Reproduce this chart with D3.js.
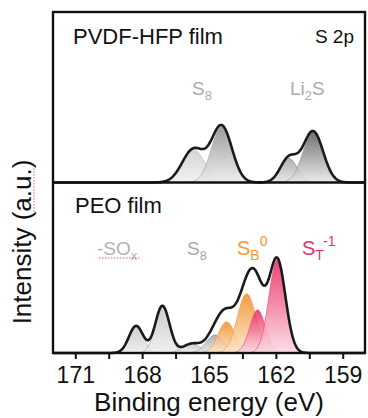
<!DOCTYPE html>
<html>
<head>
<meta charset="utf-8">
<script src="https://cdn.jsdelivr.net/npm/d3@7"></script>
<style>
body { margin:0; background:#fff; }
text { font-family: "Liberation Sans", Arial, sans-serif; }
</style>
</head>
<body>
<div id="chart"></div>
<script>
// S 2p fitted components: [binding energy (eV), height (a.u.), sigma (eV)]
var pvdfPeaks = [[165.70, 33, 0.50], [164.43, 56, 0.46], [161.42, 24, 0.38], [160.33, 51, 0.45]];
var pvdfNames = ["S8 2p1/2", "S8 2p3/2", "Li2S 2p1/2", "Li2S 2p3/2"];
var peoPeaks = [[168.27, 27, 0.32], [167.09, 47, 0.32], [165.78, 9, 0.40], [164.73, 18, 0.40],
                [164.21, 31, 0.38], [163.31, 59, 0.42], [162.82, 43, 0.35], [161.94, 93, 0.37]];
var peoNames = ["SOx a", "SOx b", "S8 a", "S8 b", "SB0 a", "SB0 b", "ST-1 a", "ST-1 b"];
var majorTicks = [171, 168, 165, 162, 159];
var minorTicks = [169.5, 166.5, 163.5, 160.5];

(function(){

var w = 368, h = 418;
var pLeft = 53, pRight = 365, pTop = 12, pMid = 182.5, pBottom = 353;

var svg = d3.select("#chart").append("svg").attr("width", w).attr("height", h);
var defs = svg.append("defs");

var x = d3.scaleLinear().domain([172, 158]).range([pLeft, pRight]);
var yTop = d3.scaleLinear().domain([0, 170]).range([pMid, pTop]);
var yBot = d3.scaleLinear().domain([0, 170]).range([pBottom, pMid]);

function grad(id, c1, c2) {
  var g = defs.append("linearGradient").attr("id", id).attr("x1", 0).attr("y1", 0).attr("x2", 0).attr("y2", 1);
  g.append("stop").attr("offset", "0%").attr("stop-color", c1);
  g.append("stop").attr("offset", "100%").attr("stop-color", c2);
}
grad("gLight", "#cdcdcd", "#f0f0f0");
grad("gDark", "#8c8c8c", "#ececec");
grad("gMid", "#a2a2a2", "#e4e4e4");
grad("gDarker", "#585858", "#e8e8e8");
grad("gSox", "#c4c4c4", "#ededed");
grad("gS8", "#c8c8c8", "#eeeeee");
grad("gS8b", "#9aa2ab", "#e6e8ea");
grad("gOrange", "#f08a1e", "#fde7cf");
grad("gPink", "#e8235a", "#fbd9e3");

var pvdfStyle = [["gLight", "#bdbdbd"], ["gDark", "#a8a8a8"], ["gMid", "#8f8f8f"], ["gDarker", "#a0a0a0"]];
var peoStyle = [["gSox", "#b0b0b0"], ["gSox", "#b0b0b0"], ["gS8", "#b0b0b0"], ["gS8b", "#9aa2ab"],
                ["gOrange", "#f2a04a"], ["gOrange", "#f2a04a"], ["gPink", "#ec5c82"], ["gPink", "#ec5c82"]];

var grid = d3.range(172, 157.99, -0.02);
function gauss(p, e) { return p[1] * Math.exp(-0.5 * Math.pow((e - p[0]) / p[2], 2)); }

function drawPanel(peaks, styles, y) {
  var area = d3.area().x(function(d) { return x(d[0]); }).y0(y(0)).y1(function(d) { return y(d[1]); });
  var line = d3.line().x(function(d) { return x(d[0]); }).y(function(d) { return y(d[1]); });
  var g = svg.append("g");
  peaks.forEach(function(p, i) {
    var pts = grid.filter(function(e) { return Math.abs(e - p[0]) < 4 * p[2]; })
                  .map(function(e) { return [e, gauss(p, e)]; });
    g.append("path").attr("d", area(pts))
      .attr("fill", "url(#" + styles[i][0] + ")").attr("fill-opacity", 0.85)
      .attr("stroke", styles[i][1]).attr("stroke-width", 0.8);
  });
  var env = grid.map(function(e) { return [e, d3.sum(peaks, function(p) { return gauss(p, e); })]; });
  g.append("path").attr("d", line(env)).attr("fill", "none")
    .attr("stroke", "#1a1a1a").attr("stroke-width", 2.6).attr("stroke-linejoin", "round");
}
drawPanel(pvdfPeaks, pvdfStyle, yTop);
drawPanel(peoPeaks, peoStyle, yBot);

// frame
svg.append("rect").attr("x", pLeft).attr("y", pTop).attr("width", pRight - pLeft).attr("height", pBottom - pTop)
  .attr("fill", "none").attr("stroke", "#111").attr("stroke-width", 2.4);
svg.append("line").attr("x1", pLeft).attr("x2", pRight).attr("y1", pMid).attr("y2", pMid)
  .attr("stroke", "#111").attr("stroke-width", 2.4);

// x axis
var axis = svg.append("g").attr("transform", "translate(0," + pBottom + ")")
  .call(d3.axisBottom(x).tickValues(majorTicks).tickSize(6).tickSizeOuter(0));
axis.select(".domain").remove();
axis.selectAll(".tick line").attr("stroke", "#111").attr("stroke-width", 2);
axis.selectAll(".tick text").attr("y", 14).attr("dy", "0.71em").attr("fill", "#111")
  .style("font-size", "23px").style("font-family", "'Liberation Sans', Arial, sans-serif");
var minor = svg.append("g").attr("transform", "translate(0," + pBottom + ")")
  .call(d3.axisBottom(x).tickValues(minorTicks).tickSize(6).tickSizeOuter(0).tickFormat(""));
minor.select(".domain").remove();
minor.selectAll(".tick text").remove();
minor.selectAll(".tick line").attr("stroke", "#111").attr("stroke-width", 2);

svg.append("text").attr("x", (pLeft + pRight) / 2).attr("y", 411).attr("text-anchor", "middle")
  .style("font-size", "26px").attr("fill", "#111").text("Binding energy (eV)");

// y label
var yl = svg.append("g").attr("transform", "translate(31,242) rotate(-90)");
var ylt = yl.append("text").attr("text-anchor", "middle").style("font-size", "26px").attr("fill", "#111")
  .text("Intensity (a.u.)");
var n = ylt.node();
var s0 = n.getStartPositionOfChar(11), s1 = n.getEndPositionOfChar(14);
yl.append("line").attr("x1", s0.x).attr("x2", s1.x).attr("y1", 3).attr("y2", 3)
  .attr("stroke", "#e06060").attr("stroke-width", 1).attr("stroke-dasharray", "1.5,1.5");

// panel titles
svg.append("text").attr("x", 73).attr("y", 44).style("font-size", "22px").attr("fill", "#111").text("PVDF-HFP film");
svg.append("text").attr("x", 354).attr("y", 43).attr("text-anchor", "end").style("font-size", "19px").attr("fill", "#111").text("S 2p");
svg.append("text").attr("x", 75).attr("y", 213).style("font-size", "22px").attr("fill", "#111").text("PEO film");

function label(xp, yp, main, sub, color) {
  var t = svg.append("text").attr("x", xp).attr("y", yp).style("font-size", "19px").attr("fill", color);
  t.append("tspan").text(main);
  t.append("tspan").attr("dy", 5).style("font-size", "13px").text(sub);
  return t;
}
label(192, 95, "S", "8", "#ababab");
var li = svg.append("text").attr("x", 290).attr("y", 95).style("font-size", "19px").attr("fill", "#ababab");
li.append("tspan").text("Li");
li.append("tspan").attr("dy", 5).style("font-size", "13px").text("2");
li.append("tspan").attr("dy", -5).text("S");

label(97, 255, "-SO", "x", "#b3b3b3");
svg.append("line").attr("x1", 99).attr("x2", 141).attr("y1", 258).attr("y2", 258)
  .attr("stroke", "#e06060").attr("stroke-width", 1).attr("stroke-dasharray", "1.5,1.5");
label(187, 255, "S", "8", "#a8a8a8");
var sb = svg.append("text").attr("x", 237).attr("y", 255).style("font-size", "20px").attr("fill", "#f39a34");
sb.append("tspan").text("S");
sb.append("tspan").attr("dy", 5).style("font-size", "14px").text("B");
sb.append("tspan").attr("dy", -14).style("font-size", "14px").text("0");
var st = svg.append("text").attr("x", 302).attr("y", 255).style("font-size", "20px").attr("fill", "#e8336a");
st.append("tspan").text("S");
st.append("tspan").attr("dy", 5).style("font-size", "14px").text("T");
st.append("tspan").attr("dy", -14).style("font-size", "14px").text("-1");

})();
</script>
</body>
</html>
